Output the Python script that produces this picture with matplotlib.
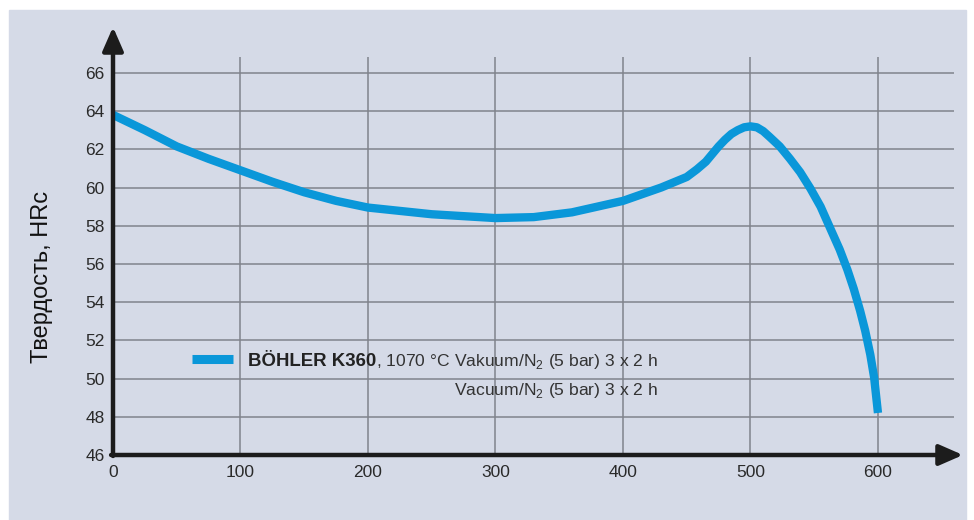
"""BÖHLER K360 tempering chart: hardness vs tempering temperature."""
import matplotlib
matplotlib.use("Agg")
import matplotlib.pyplot as plt
from matplotlib.patches import Rectangle

# values
TEMPS = [0, 25, 50, 75, 100, 125, 150, 175, 200, 250, 300, 330, 360, 400,
         430, 450, 458, 465, 470, 475, 480, 485, 490, 495, 500, 505, 510,
         515, 523, 531, 539, 547, 555, 562, 570, 576, 581, 586, 590, 594,
         597, 600]
HRC = [63.8, 63.0, 62.15, 61.5, 60.9, 60.3, 59.75, 59.3, 58.95, 58.6, 58.4,
       58.45, 58.7, 59.3, 60.0, 60.55, 60.95, 61.35, 61.75, 62.15, 62.5,
       62.8, 63.0, 63.15, 63.2, 63.15, 62.95, 62.65, 62.15, 61.5, 60.8,
       59.95, 59.0, 57.95, 56.75, 55.7, 54.7, 53.55, 52.5, 51.25, 50.05,
       48.2]
X_TICKS = [0, 100, 200, 300, 400, 500, 600]
Y_TICKS = [46, 48, 50, 52, 54, 56, 58, 60, 62, 64, 66]

BG = "#d5dae7"
BLUE = "#0a97d9"
GRID = "#80838c"
INK = "#1c1c1c"
SANS = ["Liberation Sans", "DejaVu Sans"]

plt.rcParams["mathtext.fontset"] = "custom"
plt.rcParams["mathtext.rm"] = "Liberation Sans"

W, H = 974, 520
fig = plt.figure(figsize=(W / 100, H / 100), dpi=100, facecolor="white")
fig.patches.append(Rectangle((9 / W, 0), (966 - 9) / W, (H - 10) / H,
                             transform=fig.transFigure, color=BG, zorder=-5))

ax = fig.add_axes([113 / W, (H - 455) / H, (963 - 113) / W, (455 - 27) / H])
ax.set_facecolor("none")
ax.set_xlim(0, 666.7)
ax.set_ylim(46, 68.4)
for s in ax.spines.values():
    s.set_visible(False)

# grid
ax.hlines(Y_TICKS[1:], 0, 660, color=GRID, lw=1.1, zorder=1)
ax.vlines(X_TICKS[1:], 46, 66.85, color=GRID, lw=1.1, zorder=1)

# axes with arrows
arrow = dict(arrowstyle="-|>,head_length=0.8,head_width=0.35", lw=3.2,
             color=INK, shrinkA=0, shrinkB=0, mutation_scale=18)
ax.annotate("", xy=(666.7, 46), xytext=(-1.5, 46), arrowprops=arrow,
            annotation_clip=False, zorder=4)
ax.annotate("", xy=(0, 68.4), xytext=(0, 45.95), arrowprops=arrow,
            annotation_clip=False, zorder=4)

ax.plot(TEMPS, HRC, color=BLUE, lw=6, solid_capstyle="butt",
        solid_joinstyle="round", zorder=3)

ax.set_xticks(X_TICKS)
ax.set_yticks(Y_TICKS)
ax.tick_params(length=0, labelsize=12.5, colors="#2a2a2a")
ax.tick_params(axis="y", pad=6)
ax.tick_params(axis="x", pad=7)
for lab in ax.get_xticklabels() + ax.get_yticklabels():
    lab.set_family(SANS)

fig.text(42 / W, 1 - 277 / H, "Твердость, HRc", rotation=90, ha="center",
         va="center", fontsize=17, family=SANS, color="#111111")

# legend
ax.plot([62, 94], [51.03, 51.03], color=BLUE, lw=6.5, solid_capstyle="butt",
        zorder=3)
base_y = 50.66
t1 = ax.text(106, base_y, "BÖHLER K360", fontsize=13.4, fontweight="bold",
             family=SANS, color="#222222", va="baseline", zorder=5)
renderer = fig.canvas.get_renderer()
x_end = ax.transData.inverted().transform(
    (t1.get_window_extent(renderer).x1, 0))[0]
t2 = ax.text(x_end, base_y, ", 1070 °C Vakuum/N$_2$ (5 bar) 3 x 2 h",
             fontsize=12.6, family=SANS, color="#333333", va="baseline",
             zorder=5)
x_right = ax.transData.inverted().transform(
    (t2.get_window_extent(renderer).x1, 0))[0]
ax.text(x_right, base_y - 29 / 19.1, "Vacuum/N$_2$ (5 bar) 3 x 2 h",
        ha="right", va="baseline", fontsize=12.6, family=SANS,
        color="#333333", zorder=5)

fig.savefig("out.png", dpi=100, facecolor="white")
